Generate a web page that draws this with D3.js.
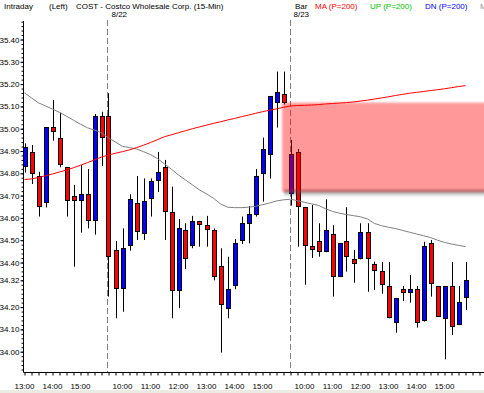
<!DOCTYPE html>
<html><head><meta charset="utf-8">
<script src="https://cdn.jsdelivr.net/npm/d3@7/dist/d3.min.js"></script>
<style>
html,body{margin:0;padding:0;background:#fff;}
svg{display:block;}
text{font-family:"Liberation Sans",Arial,sans-serif;font-size:8px;}
</style></head>
<body>
<script>
// ---- data ----
const opens  = [34.83,34.894,34.786,34.668,35.006,34.957,34.827,34.698,34.679,34.706,34.589,35.056,35.056,34.455,34.283,34.475,34.665,34.531,34.688,34.767,34.827,34.625,34.277,34.544,34.477,34.585,34.567,34.544,34.383,34.195,34.296,34.50,34.578,34.617,34.80,34.888,35.118,35.156,34.71,34.894,34.648,34.473,34.496,34.45,34.526,34.339,34.495,34.414,34.419,34.535,34.392,34.362,34.293,34.132,34.28,34.266,34.28,34.141,34.486,34.295,34.152,34.295,34.123,34.244];
const highs  = [34.934,34.927,34.807,35.006,35.129,35.072,34.827,34.748,34.837,34.819,35.066,35.076,35.159,34.496,34.553,34.706,34.788,34.777,34.777,34.896,34.86,34.74,34.595,34.576,34.609,34.587,34.609,34.553,34.464,34.426,34.505,34.606,34.653,34.819,34.96,35.147,35.256,35.256,34.949,34.909,34.648,34.658,34.576,34.683,34.567,34.486,34.648,34.456,34.576,34.576,34.404,34.402,34.402,34.24,34.295,34.344,34.295,34.493,34.501,34.295,34.295,34.402,34.295,34.402];
const lows   = [34.803,34.752,34.606,34.647,34.946,34.827,34.606,34.381,34.534,34.553,34.525,34.833,34.247,34.15,34.179,34.453,34.501,34.501,34.606,34.716,34.501,34.15,34.195,34.371,34.464,34.471,34.471,34.32,33.996,34.15,34.28,34.483,34.486,34.606,34.673,34.777,35.005,35.109,34.655,34.471,34.30,34.42,34.426,34.446,34.247,34.336,34.359,34.309,34.414,34.269,34.277,34.26,34.15,34.085,34.227,34.22,34.108,34.135,34.247,34.16,33.966,34.075,34.12,34.187];
const closes = [34.916,34.80,34.653,35.006,34.988,34.842,34.679,34.679,34.706,34.589,35.056,34.961,34.428,34.283,34.464,34.683,34.538,34.674,34.764,34.805,34.628,34.277,34.553,34.419,34.585,34.571,34.549,34.338,34.213,34.28,34.486,34.576,34.617,34.788,34.907,35.147,35.163,35.118,34.886,34.652,34.477,34.459,34.45,34.546,34.339,34.486,34.429,34.396,34.535,34.419,34.365,34.305,34.152,34.24,34.266,34.28,34.132,34.474,34.307,34.161,34.295,34.114,34.222,34.32];
const maValues = [34.772,34.775,34.781,34.789,34.797,34.806,34.815,34.825,34.836,34.848,34.86,34.873,34.882,34.89,34.897,34.905,34.915,34.926,34.938,34.951,34.964,34.973,34.982,34.991,35.0,35.008,35.016,35.024,35.031,35.039,35.046,35.054,35.061,35.069,35.076,35.083,35.089,35.096,35.102,35.104,35.105,35.106,35.108,35.111,35.113,35.115,35.117,35.12,35.124,35.128,35.133,35.138,35.143,35.149,35.154,35.159,35.163,35.167,35.171,35.175,35.179,35.184,35.189,35.193];
const greyValues = [35.161,35.138,35.116,35.102,35.088,35.073,35.056,35.038,35.02,35.004,34.994,34.982,34.958,34.94,34.921,34.915,34.909,34.897,34.884,34.866,34.842,34.818,34.792,34.77,34.748,34.725,34.708,34.688,34.663,34.648,34.646,34.646,34.648,34.652,34.659,34.667,34.676,34.681,34.684,34.677,34.67,34.663,34.656,34.641,34.629,34.621,34.615,34.61,34.605,34.595,34.575,34.565,34.558,34.552,34.544,34.536,34.528,34.52,34.512,34.5,34.49,34.483,34.477,34.471];
const yTickValues = [34.00,34.10,34.20,34.32,34.40,34.50,34.60,34.70,34.80,34.90,35.00,35.10,35.20,35.30,35.40];
const yTickLabels = ["34.00","34.10","34.20","34.32","34.40","34.50","34.60","34.70","34.80","34.90","35.00","35.10","35.20","35.30","35.40"];
const timeLabelIdx = [0,4,8,14,18,22,26,30,34,40,44,48,52,56,60];
const timeLabels = ["13:00","14:00","15:00","10:00","11:00","12:00","13:00","14:00","15:00","10:00","11:00","12:00","13:00","14:00","15:00"];
const dayStartIdx = [12,38];
const dayLabels = ["8/22","8/23"];
const zone = {startIdx:36.8, top:35.117, bottom:34.717};
const headerTexts = [
  {t:"Intraday", x:4, c:"#000"},
  {t:"(Left)", x:49, c:"#000"},
  {t:"COST - Costco Wholesale Corp.  (15-Min)", x:76, c:"#000"},
  {t:"Bar", x:295, c:"#000"},
  {t:"MA (P=200)", x:315, c:"#ff0000"},
  {t:"UP (P=200)", x:370, c:"#00c000"},
  {t:"DN (P=200)", x:425, c:"#0000ff"},
  {t:"M", x:480, c:"#909090"}
];

// ---- chart ----
const W=484,H=393;
const svg = d3.select("body").append("svg").attr("width",W).attr("height",H);
const x = d3.scaleLinear().domain([0,63]).range([24.5,465.5]);
const y = d3.scaleLinear().domain([34.0,35.4]).range([351.7,39.5]);
const axisX = 23.5, axisY = 372.5;

svg.append("rect").attr("x",0).attr("y",390).attr("width",W).attr("height",3).attr("fill","#ebebe4");

const defs = svg.append("defs");
const blur = defs.append("filter").attr("id","blur").attr("x","-10%").attr("y","-20%").attr("width","120%").attr("height","140%");
blur.append("feGaussianBlur").attr("stdDeviation",1.2);
const sg = defs.append("linearGradient").attr("id","shadowGrad").attr("x1",0).attr("y1",0).attr("x2",0).attr("y2",1);
sg.append("stop").attr("offset","0%").attr("stop-color","#555").attr("stop-opacity",0.75);
sg.append("stop").attr("offset","100%").attr("stop-color","#555").attr("stop-opacity",0);

// header
svg.selectAll("text.hdr").data(headerTexts).join("text").attr("class","hdr")
  .attr("x",d=>d.x).attr("y",9).attr("fill",d=>d.c).text(d=>d.t);

// day dividers
svg.selectAll("line.div").data(dayStartIdx).join("line").attr("class","div")
  .attr("x1",d=>Math.round(x(d))-0.5).attr("x2",d=>Math.round(x(d))-0.5)
  .attr("y1",20).attr("y2",axisY).attr("stroke","#808080").attr("stroke-dasharray","6,3");
svg.selectAll("text.day").data(dayLabels).join("text").attr("class","day")
  .attr("x",(d,i)=>x(dayStartIdx[i])+3).attr("y",17).text(d=>d);

// y axis
svg.append("line").attr("x1",axisX).attr("x2",axisX).attr("y1",21).attr("y2",axisY).attr("stroke","#000");
const minor = d3.range(0,79).map(i=>+(33.92+i*0.02).toFixed(2));
svg.append("g").attr("transform",`translate(${axisX},0)`)
  .call(d3.axisLeft(y).tickValues(minor).tickSize(2).tickFormat(""))
  .call(g=>g.select(".domain").remove())
  .call(g=>g.selectAll("line").attr("stroke","#000"));
svg.append("g").attr("transform",`translate(${axisX},0)`)
  .call(d3.axisLeft(y).tickValues(yTickValues).tickSize(3).tickPadding(1).tickFormat((d,i)=>yTickLabels[i]))
  .call(g=>g.select(".domain").remove())
  .call(g=>g.selectAll("line").attr("stroke","#000"))
  .call(g=>g.selectAll("text").attr("fill","#000").style("font-size","8px").style("font-family","'Liberation Sans',Arial,sans-serif"));

// x axis
svg.append("line").attr("x1",axisX).attr("x2",W).attr("y1",axisY).attr("y2",axisY).attr("stroke","#000");
svg.append("g").attr("transform",`translate(0,${axisY})`)
  .call(d3.axisBottom(x).tickValues(d3.range(0,66)).tickSize(3).tickFormat(""))
  .call(g=>g.select(".domain").remove())
  .call(g=>g.selectAll("line").attr("stroke","#000"));
svg.selectAll("text.tl").data(timeLabels).join("text").attr("class","tl")
  .attr("x",(d,i)=>x(timeLabelIdx[i])).attr("y",389).attr("text-anchor","middle").text(d=>d);

// candles
const idx = d3.range(opens.length);
const cg = svg.append("g");
cg.selectAll("line.wick").data(idx).join("line").attr("class","wick")
  .attr("x1",i=>Math.round(x(i))+0.5).attr("x2",i=>Math.round(x(i))+0.5)
  .attr("y1",i=>y(highs[i])).attr("y2",i=>y(lows[i])).attr("stroke","#000");
cg.selectAll("rect.body").data(idx).join("rect").attr("class","body")
  .attr("x",i=>Math.round(x(i))-1.5)
  .attr("width",4)
  .attr("y",i=>Math.round(y(Math.max(opens[i],closes[i])))+0.5)
  .attr("height",i=>Math.max(2,Math.round(Math.abs(y(opens[i])-y(closes[i])))))
  .attr("fill",i=>closes[i]>=opens[i]?"#0000ff":"#ff0000")
  .attr("stroke","#000").attr("stroke-width",1);

// zone box
const zx = x(zone.startIdx), zt = y(zone.top), zb = y(zone.bottom);
svg.append("rect").attr("x",zx+2).attr("y",zb-2).attr("width",W-zx).attr("height",7)
  .attr("fill","url(#shadowGrad)").attr("filter","url(#blur)");
svg.append("rect").attr("x",zx).attr("y",zt).attr("width",W-zx+5).attr("height",zb-zt)
  .attr("fill","#ff0000").attr("fill-opacity",0.4).attr("filter","url(#blur)");

// lines
const line = d3.line().x((d,i)=>x(i)).y(d=>y(d));
svg.append("path").datum(greyValues).attr("d",line).attr("fill","none").attr("stroke","#808080").attr("stroke-width",1);
svg.append("path").datum(maValues).attr("d",line).attr("fill","none").attr("stroke","#ff0000").attr("stroke-width",1);
</script>
</body></html>
